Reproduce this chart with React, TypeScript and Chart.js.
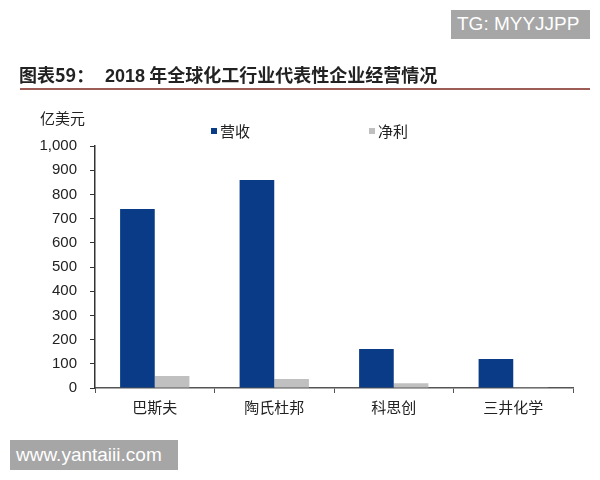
import React, { useEffect, useRef } from "react";
import { Chart, registerables } from "chart.js";

Chart.register(...registerables);

const categories = ["巴斯夫", "陶氏杜邦", "科思创", "三井化学"];
const revenue = [740, 860, 161, 120];
const netProfit = [50, 37, 20, 3];
const seriesNames = ["营收", "净利"];
const yTickMax = 1000;
const yTickStep = 100;

const BLUE = "#0a3b86";
const GRAY = "#c0c0c0";

export default function App() {
  const ref = useRef<HTMLCanvasElement | null>(null);

  useEffect(() => {
    if (!ref.current) return;
    const chart = new Chart(ref.current, {
      type: "bar",
      data: {
        labels: categories,
        datasets: [
          { label: seriesNames[0], data: revenue, backgroundColor: BLUE, categoryPercentage: 0.58, barPercentage: 1 },
          { label: seriesNames[1], data: netProfit, backgroundColor: GRAY, categoryPercentage: 0.58, barPercentage: 1 },
        ],
      },
      options: {
        responsive: false,
        animation: false,
        layout: { padding: { top: 146, right: 27, bottom: 0, left: 0 } },
        plugins: { legend: { display: false }, tooltip: { enabled: false } },
        scales: {
          x: {
            afterFit: (s: any) => { s.height = 92; },
            grid: { display: true, drawOnChartArea: false, drawTicks: true, tickLength: 5, color: "#555", offset: true },
            border: { display: true, color: "#555", width: 1.5 },
            ticks: { color: "#222", padding: 5, font: { family: "'Noto Sans CJK SC'", size: 15 } },
          },
          y: {
            min: 0,
            max: yTickMax,
            afterFit: (s: any) => { s.width = 95; },
            grid: { display: true, drawOnChartArea: false, drawTicks: true, tickLength: 5, color: "#333" },
            border: { display: true, color: "#333", width: 1.5 },
            ticks: { stepSize: yTickStep, color: "#222", padding: 13, font: { family: "'Liberation Sans', Arial", size: 15 } },
          },
        },
      },
    });
    return () => chart.destroy();
  }, []);

  const abs = (o: React.CSSProperties): React.CSSProperties => ({ position: "absolute", whiteSpace: "nowrap", ...o });

  return (
    <div style={{ position: "absolute", left: 0, top: 0, width: 600, height: 480, background: "#fff", overflow: "hidden", fontFamily: "'Noto Sans CJK SC', 'Liberation Sans', sans-serif" }}>
      <canvas ref={ref} width={600} height={480} style={{ position: "absolute", left: 0, top: 0, width: 600, height: 480 }} />
      <div style={abs({ left: 451, top: 10, width: 139, height: 29, background: "#a6a6a6" })}>
        <span style={abs({ left: 6, top: 3, color: "#fff", fontFamily: "'Liberation Sans', Arial", fontSize: 19, lineHeight: "22px" })}>TG: MYYJJPP</span>
      </div>
      <span style={abs({ left: 19, top: 63, fontSize: 18, fontWeight: 700, color: "#222", lineHeight: "22px" })}>图表59：</span>
      <span style={abs({ left: 105, top: 63, fontSize: 18, fontWeight: 700, color: "#222", lineHeight: "22px" })}>
        <span style={{ fontFamily: "'Liberation Sans', Arial" }}>2018</span> 年全球化工行业代表性企业经营情况
      </span>
      <div style={abs({ left: 20, top: 88, width: 570, height: 2, background: "#9e5c57" })} />
      <span style={abs({ left: 40, top: 108, fontSize: 15, color: "#222", lineHeight: "20px" })}>亿美元</span>
      <div style={abs({ left: 211, top: 128, width: 6, height: 6, background: BLUE })} />
      <span style={abs({ left: 220, top: 121, fontSize: 15, color: "#222", lineHeight: "20px" })}>{seriesNames[0]}</span>
      <div style={abs({ left: 369, top: 128, width: 6, height: 6, background: GRAY })} />
      <span style={abs({ left: 378, top: 121, fontSize: 15, color: "#222", lineHeight: "20px" })}>{seriesNames[1]}</span>
      <div style={abs({ left: 10, top: 440, width: 168, height: 30, background: "#a6a6a6" })}>
        <span style={abs({ left: 6, top: 4, color: "#fff", fontFamily: "'Liberation Sans', Arial", fontSize: 19, lineHeight: "22px" })}>www.yantaiii.com</span>
      </div>
    </div>
  );
}
